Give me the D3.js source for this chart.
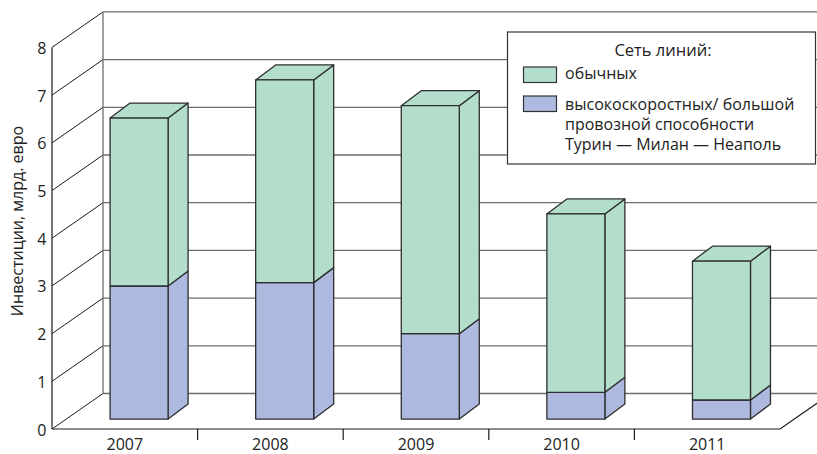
<!DOCTYPE html>
<html><head><meta charset="utf-8">
<script src="https://cdn.jsdelivr.net/npm/d3@7"></script>
<style>
html,body{margin:0;padding:0;background:#fff;}
svg{display:block;font-family:"Open Sans","Noto Sans",sans-serif;}
</style></head>
<body><svg id="c" width="817" height="454"></svg>
<script>
const years = ["2007","2008","2009","2010","2011"];
const highSpeed = [2.79, 2.86, 1.79, 0.56, 0.40];
const conventional = [3.52, 4.25, 4.78, 3.74, 2.91];
const yTicks = [0,1,2,3,4,5,6,7,8];
const legendTitle = "Сеть линий:";
const legendLabels = [["обычных"], ["высокоскоростных/ большой","провозной способности","Турин — Милан — Неаполь"]];
const yTitle = "Инвестиции, млрд. евро";

const green = "#b2decb", blue = "#adb9de", edge = "#2e2e2e";
const svg = d3.select("#c");

const x = d3.scaleBand().domain(years).range([52, 780]);
const y = d3.scaleLinear().domain([0, 8]).range([429, 47.4]);
const DX = 51, DY = 35.5;       // floor depth
const barFrac = 0.28;           // position of bar front within depth
const bdx = 20, bdy = 15;       // bar depth
const barW = 58;

// back wall
const g = svg.append("g");
yTicks.forEach(v => {
  g.append("line").attr("x1", 52 + DX).attr("x2", 830).attr("y1", y(v) - DY).attr("y2", y(v) - DY)
    .attr("stroke", "#6e6e6e").attr("stroke-width", 1.3);
  g.append("line").attr("x1", 52).attr("x2", 52 + DX).attr("y1", y(v)).attr("y2", y(v) - DY)
    .attr("stroke", "#1a1a1a").attr("stroke-width", 1);
});
g.append("line").attr("x1", 52 + DX).attr("x2", 52 + DX).attr("y1", y(0) - DY).attr("y2", y(8) - DY)
  .attr("stroke", "#6e6e6e").attr("stroke-width", 1.3);

// bars
function box(x0, yb, yt, fill, top) {
  const bg = svg.append("g").attr("stroke", edge).attr("stroke-width", 1.3).attr("stroke-linejoin", "round").attr("fill", fill);
  bg.append("path").attr("d", `M${x0 + barW},${yb}L${x0 + barW + bdx},${yb - bdy}L${x0 + barW + bdx},${yt - bdy}L${x0 + barW},${yt}Z`);
  if (top) bg.append("path").attr("d", `M${x0},${yt}L${x0 + bdx},${yt - bdy}L${x0 + barW + bdx},${yt - bdy}L${x0 + barW},${yt}Z`);
  bg.append("rect").attr("x", x0).attr("y", yt).attr("width", barW).attr("height", yb - yt);
}
const ox = DX * barFrac, oy = DY * barFrac;
years.forEach((yr, i) => {
  const x0 = x(yr) + (x.bandwidth() - barW) / 2 + ox;
  const base = v => y(v) - oy;
  box(x0, base(0), base(highSpeed[i]), blue, false);
  box(x0, base(highSpeed[i]), base(highSpeed[i] + conventional[i]), green, true);
});

// front axes
svg.append("line").attr("x1", 52).attr("x2", 52).attr("y1", y(0)).attr("y2", y(8)).attr("stroke", "#1a1a1a").attr("stroke-width", 1.2);
svg.append("path").attr("d", `M52,${y(0)}L780,${y(0)}L${780 + DX},${y(0) - DY}`).attr("fill", "none").attr("stroke", "#1a1a1a").attr("stroke-width", 1.2);
years.slice(1).forEach(yr => {
  svg.append("line").attr("x1", x(yr)).attr("x2", x(yr)).attr("y1", y(0)).attr("y2", y(0) + 11).attr("stroke", "#1a1a1a").attr("stroke-width", 1.2);
});
svg.append("g").selectAll("text").data(years).join("text")
  .attr("x", d => x(d) + x.bandwidth() / 2).attr("y", 449.5).attr("text-anchor", "middle")
  .attr("font-size", 16).attr("fill", "#222").text(d => d);
svg.append("g").selectAll("text").data(yTicks).join("text")
  .attr("x", 46.5).attr("y", d => y(d) + 6.5).attr("text-anchor", "end")
  .attr("font-size", 16).attr("fill", "#222").text(d => d);
svg.append("text").attr("transform", "translate(23,221) rotate(-90)").attr("text-anchor", "middle")
  .attr("font-size", 16).attr("fill", "#222").text(yTitle);

// legend
const L = svg.append("g");
L.append("rect").attr("x", 507.5).attr("y", 32).attr("width", 308).attr("height", 132)
  .attr("fill", "#fff").attr("stroke", "#333").attr("stroke-width", 1.2);
L.append("text").attr("x", 663).attr("y", 56).attr("text-anchor", "middle").attr("font-size", 16.5).attr("fill", "#222").text(legendTitle);
const sw = [[green, 67, 79], [blue, 96, 110]];
sw.forEach(([c, sy, ty], i) => {
  L.append("rect").attr("x", 523.5).attr("y", sy).attr("width", 33).attr("height", 15.5).attr("fill", c).attr("stroke", "#333").attr("stroke-width", 1.2);
  legendLabels[i].forEach((t, j) => {
    L.append("text").attr("x", 565).attr("y", ty + j * 20).attr("font-size", 16).attr("fill", "#222").text(t);
  });
});
</script></body></html>
